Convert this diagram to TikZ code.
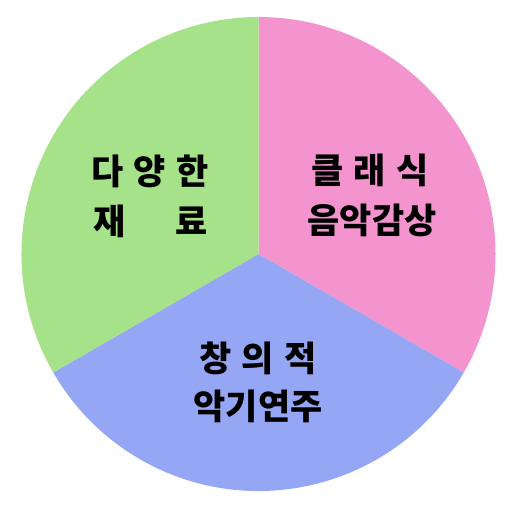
\documentclass[tikz,border=0pt]{standalone}
\usepackage{fontspec}
\newfontfamily\kofont{Noto Sans CJK KR Black}
\newcommand\kolbl{\kofont\fontsize{35}{35}\selectfont\spaceskip=10pt\relax}
\definecolor{pgreen}{HTML}{A6E28A}
\definecolor{ppink}{HTML}{F494CE}
\definecolor{pblue}{HTML}{95A7F4}
\begin{document}
\begin{tikzpicture}[x=1pt,y=1pt,
  lbl/.style={font=\kolbl, inner sep=0pt, anchor=center}]
\useasboundingbox (0,0) rectangle (517,-507);
\coordinate (c) at (258.5,-254);
\fill[ppink] (c) -- ++(90:237) arc[start angle=90,end angle=-30,radius=237] -- cycle;
\fill[pblue] (c) -- ++(-30:237) arc[start angle=-30,end angle=-150,radius=237] -- cycle;
\fill[pgreen] (c) -- ++(210:237) arc[start angle=210,end angle=90,radius=237] -- cycle;
\node[lbl] (g1) at (150,-171) {다 양 한};
\node[lbl] (g2) at (151,-221) {재~~~~~료};
\node[lbl] (p1) at (370,-170) {클 래 식};
\node[lbl] (p2) at (372,-220) {음악감상};
\node[lbl] (b1) at (258,-358) {창 의 적};
\node[lbl] (b2) at (258,-406) {악기연주};
\end{tikzpicture}
\end{document}
